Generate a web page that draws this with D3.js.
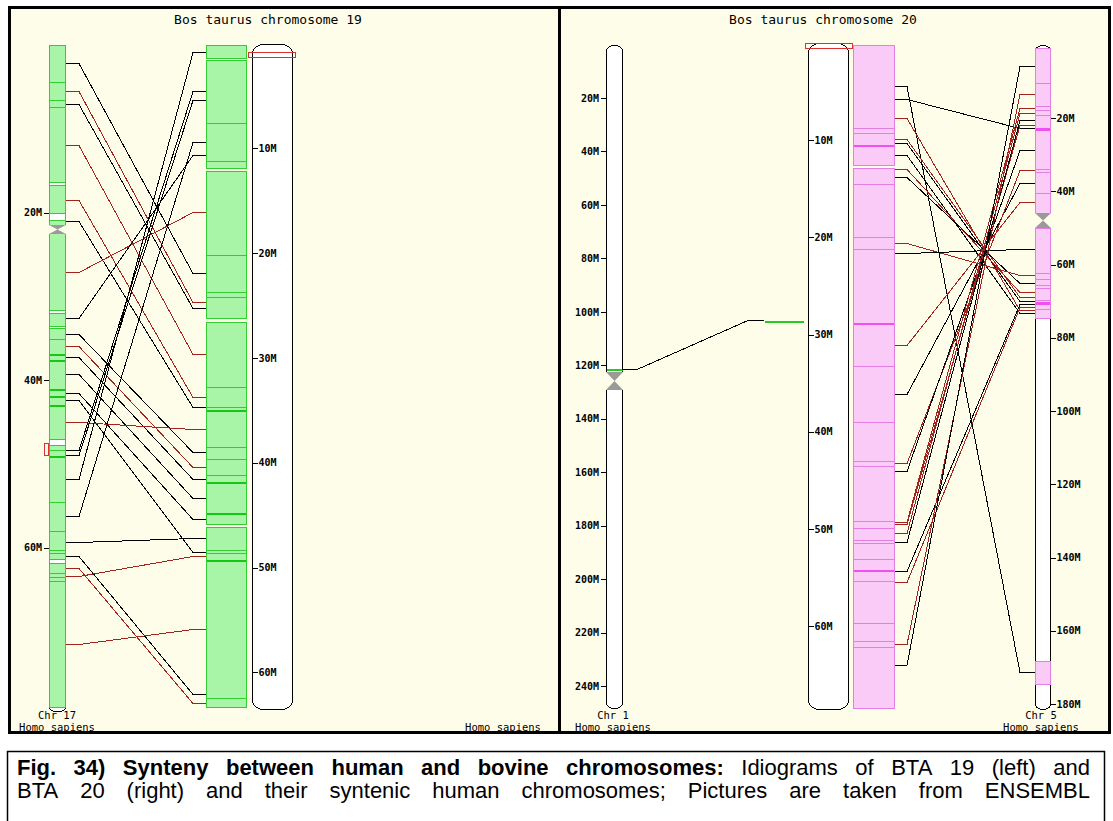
<!DOCTYPE html>
<html>
<head>
<meta charset="utf-8">
<title>Synteny BTA19 / BTA20</title>
<script src="https://cdn.jsdelivr.net/npm/d3@7"></script>
<style>
  body { margin: 0; background: #ffffff; }
  svg { display: block; }
</style>
</head>
<body>
<svg id="chart" width="1113" height="821"></svg>
<script>
// chromosome lengths (Mb)
const chr17Len = 79.0;
const bta19Len = 63.4;
const chr1Len = 248.0;
const bta20Len = 68.5;
const chr5Len = 181.2;

// tick values (Mb)
const chr17Ticks = [20, 40, 60];
const bta19Ticks = [10, 20, 30, 40, 50, 60];
const chr1Ticks = [20, 40, 60, 80, 100, 120, 140, 160, 180, 200, 220, 240];
const bta20Ticks = [10, 20, 30, 40, 50, 60];
const chr5Ticks = [20, 40, 60, 80, 100, 120, 140, 160, 180];

// HSA17: unsyntenic gaps, centromere, band edges
const chr17Gaps = [[16.35, 16.71], [20.05, 20.88], [31.62, 31.98], [33.53, 33.77], [47.02, 47.73], [61.34, 61.81]];
const chr17Centromere = [21.48, 22.55];
const chr17Bands = [4.42, 6.56, 7.40, 35.08, 48.33, 54.53, 57.99, 60.26, 60.62, 63.01, 63.48, 63.96];
const chr17BoldBands = [36.87, 37.59, 41.05, 41.89, 42.96, 49.05];
const chr17Marker = [47.5, 48.9];

// BTA19 synteny blocks with HSA17
const bta19Blocks = [[0.14, 1.38], [1.57, 11.88], [12.17, 26.19], [26.57, 45.85], [46.14, 63.3]];
const bta19Bands = [7.59, 11.21, 20.18, 23.71, 24.19, 32.78, 34.69, 38.5, 39.65, 41.18, 48.33, 48.62, 62.46];
const bta19BoldBands = [34.97, 41.84, 44.8, 49.28];
const bta19Marker = [0.8, 1.3];

// links HSA17 (Mb) -> BTA19 (Mb), k = same orientation, r = reversed
const links19 = [
  [2.11, 21.90, "k"], [5.45, 24.67, "r"], [7.04, 25.24, "k"], [11.93, 29.63, "r"],
  [18.50, 33.73, "r"], [20.97, 34.69, "k"], [27.05, 16.05, "r"], [32.58, 10.64, "k"],
  [34.49, 38.98, "k"], [35.92, 40.41, "r"], [37.23, 41.56, "k"], [39.26, 43.37, "k"],
  [41.53, 45.37, "k"], [42.36, 48.52, "k"], [44.99, 36.79, "r"], [48.33, 4.53, "k"],
  [48.93, 5.39, "k"], [51.79, 0.78, "k"], [56.21, 9.40, "k"], [59.31, 47.18, "k"],
  [60.98, 62.07, "k"], [62.41, 62.93, "r"], [63.37, 48.90, "r"], [71.48, 55.87, "r"]
];

// HSA1 <-> BTA20 (single small block)
const chr1Centromere = [122.6, 129.3];
const chr1Syn = [121.0, 121.8];
const bta20SynChr1 = [28.45, 28.65];
const links1 = [[121.4, 28.55, "k"]];

// BTA20 synteny blocks with HSA5
const bta20Blocks = [[0.21, 12.55], [12.86, 68.42]];
const bta20Bands = [8.74, 9.26, 14.51, 19.96, 21.19, 33.23, 38.99, 43.00, 43.52, 49.18, 49.9, 51.13, 51.44, 53.09, 55.35, 59.67, 61.52, 62.14];
const bta20BoldBands = [10.49, 28.81, 54.22];
const bta20Marker = [0, 0.5];

// HSA5 synteny blocks with BTA20
const chr5Blocks = [[0.87, 45.93], [50.02, 74.6], [168.24, 174.52]];
const chr5Centromere = [45.93, 50.02];
const chr5Bands = [10.43, 16.71, 17.8, 19.17, 33.91, 34.73, 40.46, 62.31, 63.95, 65.58, 66.4, 69.67, 72.13];
const chr5BoldBands = [22.99, 70.49];

// links BTA20 (Mb) -> HSA5 (Mb)
const links20 = [
  [4.42, 171.26, "k"], [5.76, 22.72, "k"], [7.72, 72.41, "r"], [9.88, 68.86, "r"],
  [10.29, 69.95, "k"], [11.52, 73.23, "k"], [12.96, 67.49, "r"], [13.79, 65.04, "k"],
  [20.58, 62.85, "r"], [21.60, 55.75, "k"], [31.07, 42.92, "r"], [36.11, 37.73, "k"],
  [43.21, 34.19, "r"], [44.03, 28.72, "k"], [49.28, 17.26, "r"], [49.49, 21.90, "r"],
  [50.41, 18.62, "r"], [51.34, 20.53, "k"], [54.32, 70.77, "k"], [55.45, 71.59, "r"],
  [61.83, 13.43, "r"], [63.99, 5.79, "k"]
];

// caption
const captionLine1 = [
  {text: "Fig. 34) Synteny between human and bovine chromosomes:", bold: true},
  {text: "Idiograms of BTA 19 (left) and", bold: false}
];
const captionLine2 = [
  {text: "BTA 20 (right) and their syntenic human chromosomes; Pictures are taken from ENSEMBL", bold: false}
];

const svg = d3.select("#chart");
const mono = "'DejaVu Sans Mono', monospace";
const bg = "#fefde9";
const green = {fill: "#a8f5a8", stroke: "#33cc33", bold: "#14c814"};
const pink = {fill: "#fbcbf8", stroke: "#e47ee4", bold: "#f050f0"};
const lineColor = {k: "#000000", r: "#a3221c"};

// scales, one per chromosome
const yChr17 = d3.scaleLinear().domain([0, chr17Len]).range([45, 707]);
const yBta19 = d3.scaleLinear().domain([0, bta19Len]).range([43.5, 708]);
const yChr1 = d3.scaleLinear().domain([0, chr1Len]).range([44.5, 707.4]);
const yBta20 = d3.scaleLinear().domain([0, bta20Len]).range([43, 708.8]);
const yChr5 = d3.scaleLinear().domain([0, chr5Len]).range([44.8, 708.4]);

const px = v => Math.round(v) + 0.5;

// frames
svg.append("rect").attr("width", 1113).attr("height", 821).attr("fill", "#fff");
svg.append("rect")
  .attr("x", 9.5).attr("y", 7.5).attr("width", 1100).attr("height", 725)
  .attr("fill", bg).attr("stroke", "#000").attr("stroke-width", 3);
svg.append("line")
  .attr("x1", 559.5).attr("x2", 559.5).attr("y1", 7).attr("y2", 733)
  .attr("stroke", "#000").attr("stroke-width", 3);

const chart = svg.append("g").attr("shape-rendering", "crispEdges");

function ideogram(g, y, x, w, len, rx, ry, extra) {
  g.append("rect")
    .attr("x", x + 0.5).attr("y", px(y(0))).attr("width", w - 1)
    .attr("height", Math.round(y(len) - y(0)) + (extra || 0))
    .attr("rx", rx).attr("ry", ry)
    .attr("fill", "#fff").attr("stroke", "#000");
}

function blocks(g, data, y, x, w, col) {
  g.selectAll(null).data(data).join("rect")
    .attr("x", x + 0.5).attr("y", d => px(y(d[0])))
    .attr("width", w - 1).attr("height", d => Math.max(1, Math.round(y(d[1]) - y(d[0]))))
    .attr("fill", col.fill).attr("stroke", col.stroke);
}

function bands(g, data, y, x, w, color, width) {
  g.selectAll(null).data(data).join("line")
    .attr("x1", x + 1).attr("x2", x + w - 1)
    .attr("y1", d => px(y(d))).attr("y2", d => px(y(d)))
    .attr("stroke", color).attr("stroke-width", width);
}

function centromere(g, c, y, x, w) {
  const y0 = Math.round(y(c[0])), y1 = Math.round(y(c[1])), ym = (y0 + y1) / 2;
  g.append("rect").attr("x", x - 1).attr("y", y0).attr("width", w + 2).attr("height", y1 - y0).attr("fill", bg);
  g.append("path")
    .attr("d", `M${x},${y0}L${x + w},${y0}L${x + w / 2},${ym}Z M${x},${y1}L${x + w},${y1}L${x + w / 2},${ym}Z`)
    .attr("fill", "#9a9a9a").attr("shape-rendering", "auto");
}

function marker(g, m, y, x, w) {
  g.append("rect")
    .attr("x", x + 0.5).attr("y", px(y(m[0]))).attr("width", w)
    .attr("height", Math.max(3, Math.round(y(m[1]) - y(m[0]))))
    .attr("fill", "none").attr("stroke", "#d93030");
}

function links(g, data, yA, yB, xs) {
  const line = d3.line();
  g.selectAll(null).data(data).join("path")
    .attr("d", d => line([
      [xs[0], px(yA(d[0]))], [xs[1], px(yA(d[0]))],
      [xs[2], px(yB(d[1]))], [xs[3], px(yB(d[1]))]
    ]))
    .attr("fill", "none").attr("stroke", d => lineColor[d[2]]);
}

function axis(g, gen, x) {
  const a = g.append("g").attr("transform", `translate(${x},0)`).call(gen);
  a.select(".domain").remove();
  a.selectAll("line").attr("stroke", "#000");
  a.selectAll("text")
    .attr("font-family", mono).attr("font-weight", "bold").attr("font-size", 10)
    .attr("fill", "#000");
}

function label(g, text, x, y, size, anchor) {
  g.append("text").attr("x", x).attr("y", y)
    .attr("text-anchor", anchor || "middle")
    .attr("font-family", mono).attr("font-size", size)
    .attr("fill", "#000").text(text);
}

const fmtM = d => d + "M";

// ---------------- left panel: BTA19 vs HSA17 ----------------
const left = chart.append("g");

ideogram(left, yChr17, 49, 17, chr17Len, 6, 4, 4);
blocks(left, [[0, chr17Len]], yChr17, 49, 17, green);
blocks(left, chr17Gaps, yChr17, 49, 17, {fill: "#fff", stroke: green.stroke});
bands(left, chr17Bands, yChr17, 49, 17, green.stroke, 1);
bands(left, chr17BoldBands, yChr17, 49, 17, green.bold, 2);
centromere(left, chr17Centromere, yChr17, 49, 17);
marker(left, chr17Marker, yChr17, 44, 4);

blocks(left, bta19Blocks, yBta19, 206, 41, green);
bands(left, bta19Bands, yBta19, 206, 41, green.stroke, 1);
bands(left, bta19BoldBands, yBta19, 206, 41, green.bold, 2);

ideogram(left, yBta19, 252, 41, bta19Len, 11, 9);
marker(left, bta19Marker, yBta19, 248, 47);

links(left, links19, yChr17, yBta19, [66, 79, 193, 206]);

axis(left, d3.axisLeft(yChr17).tickValues(chr17Ticks).tickFormat(fmtM).tickSize(5).tickPadding(2), 49);
axis(left, d3.axisRight(yBta19).tickValues(bta19Ticks).tickFormat(fmtM).tickSize(5).tickPadding(1), 252.5);

// ---------------- right panel: BTA20 vs HSA1 / HSA5 ----------------
const right = chart.append("g");

ideogram(right, yChr1, 606, 17, chr1Len, 8, 5);
centromere(right, chr1Centromere, yChr1, 606, 17);
blocks(right, [chr1Syn], yChr1, 606, 17, {fill: "#22cc22", stroke: "none"});
blocks(right, [bta20SynChr1], yBta20, 764, 40, {fill: "#22cc22", stroke: "none"});
links(right, links1, yChr1, yBta20, [622, 637, 748, 764]);

ideogram(right, yBta20, 808, 41, bta20Len, 11, 9);
marker(right, bta20Marker, yBta20, 805, 47);

blocks(right, bta20Blocks, yBta20, 853, 42, pink);
bands(right, bta20Bands, yBta20, 853, 42, pink.stroke, 1);
bands(right, bta20BoldBands, yBta20, 853, 42, pink.bold, 2);

ideogram(right, yChr5, 1035, 16, chr5Len, 8, 5);
blocks(right, chr5Blocks, yChr5, 1035, 16, pink);
bands(right, chr5Bands, yChr5, 1035, 16, pink.stroke, 1);
bands(right, chr5BoldBands, yChr5, 1035, 16, pink.bold, 3);
centromere(right, chr5Centromere, yChr5, 1035, 16);

links(right, links20, yBta20, yChr5, [895, 907, 1020, 1035]);

axis(right, d3.axisLeft(yChr1).tickValues(chr1Ticks).tickFormat(fmtM).tickSize(5).tickPadding(2), 606);
axis(right, d3.axisRight(yBta20).tickValues(bta20Ticks).tickFormat(fmtM).tickSize(5).tickPadding(1), 808.5);
axis(right, d3.axisRight(yChr5).tickValues(chr5Ticks).tickFormat(fmtM).tickSize(5).tickPadding(1), 1050.5);

// ---------------- texts ----------------
const texts = svg.append("g");
label(texts, "Bos taurus chromosome 19", 268, 24, 13);
label(texts, "Bos taurus chromosome 20", 823, 24, 13);
label(texts, "Chr 17", 57, 719, 10.5);
label(texts, "Homo sapiens", 57, 731, 10.5);
label(texts, "Homo sapiens", 503, 731, 10.5);
label(texts, "Chr 1", 613, 719, 10.5);
label(texts, "Homo sapiens", 613, 731, 10.5);
label(texts, "Chr 5", 1041, 719, 10.5);
label(texts, "Homo sapiens", 1041, 731, 10.5);

// ---------------- caption box ----------------
svg.append("rect")
  .attr("x", 7.5).attr("y", 751.5).attr("width", 1097).attr("height", 100)
  .attr("fill", "#fff").attr("stroke", "#000").attr("stroke-width", 1.5);

const cap = svg.append("g")
  .attr("font-family", "'Liberation Sans', Arial, sans-serif")
  .attr("font-size", 22).attr("fill", "#000");

// spread the words of one line over the full width (justified text)
function justify(parts, y, x0, x1) {
  const words = [];
  parts.forEach(p => p.text.split(" ").forEach(w => words.push({w: w, bold: p.bold})));
  const nodes = words.map(d => cap.append("text").attr("y", y)
    .attr("font-weight", d.bold ? "bold" : "normal").text(d.w));
  const widths = nodes.map(n => n.node().getComputedTextLength());
  const gap = (x1 - x0 - d3.sum(widths)) / (words.length - 1);
  let x = x0;
  nodes.forEach((n, i) => { n.attr("x", x); x += widths[i] + gap; });
}

justify(captionLine1, 775, 17, 1090);
justify(captionLine2, 798, 17, 1090);
</script>
</body>
</html>
